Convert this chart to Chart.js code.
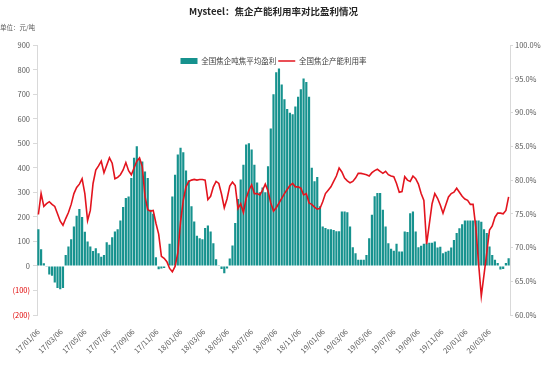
<!DOCTYPE html>
<html><head><meta charset="utf-8">
<script src="https://cdn.jsdelivr.net/npm/chart.js@4.4.1/dist/chart.umd.min.js"></script>
<style>html,body{margin:0;padding:0;background:#fff}#wrap{width:550px;height:370px}</style>
</head><body><div id="wrap"><canvas id="c" width="550" height="370"></canvas></div>
<script>
const chartTitle = 'Mysteel：焦企产能利用率对比盈利情况';
const unitText = '单位：元/吨';
const seriesNames = ['全国焦企吨焦平均盈利', '全国焦企产能利用率'];
const startDate = '2017-01-06';
const tickLabels = ['17/01/06','17/03/06','17/05/06','17/07/06','17/09/06','17/11/06','18/01/06','18/03/06','18/05/06','18/07/06','18/09/06','18/11/06','19/01/06','19/03/06','19/05/06','19/07/06','19/09/06','19/11/06','20/01/06','20/03/06'];

// weekly average profit per tonne of coke (yuan/t)
const profit = [
150,68,11,-3,-35,-40,-68,-90,-95,-90,
45,79,109,161,205,232,200,139,100,79,
61,72,52,38,45,97,86,117,140,150,
185,240,277,283,359,441,488,433,426,385,
359,229,213,35,-13,-10,-8,0,90,283,
372,454,482,464,389,349,243,181,123,113,
109,155,165,140,93,27,3,-12,-30,-10,
30,83,175,273,352,413,495,500,475,413,
340,300,320,300,406,560,700,790,805,740,
680,640,625,618,650,690,720,764,750,690,
400,345,363,243,161,155,150,150,147,141,
141,222,222,219,161,76,52,25,25,25,
45,113,209,284,297,297,229,161,93,70,
62,90,59,59,140,138,215,222,140,76,
82,90,92,95,95,100,75,78,52,58,
62,75,106,134,154,170,185,185,185,185,
185,185,180,150,134,79,45,25,12,-14,
-12,12,31
];

// weekly coke capacity utilization (%)
const utilization = [
74.9,78.0,76.1,76.5,76.8,76.4,76.1,75.0,73.9,73.3,
74.3,75.2,76.4,78.0,78.9,79.4,80.2,78.0,74.0,75.5,
79.5,81.5,82.1,82.8,81.1,82.2,83.3,82.5,80.2,80.4,
80.8,81.5,82.6,81.4,80.8,81.8,82.8,83.3,82.0,77.6,
75.6,75.4,75.5,73.6,72.0,68.7,68.4,67.9,66.9,66.4,
67.2,69.2,73.8,77.0,79.0,79.8,80.0,80.1,80.0,80.1,
80.1,80.0,77.1,77.6,79.0,79.8,79.5,77.9,75.9,77.2,
79.1,79.7,79.2,75.8,76.5,75.2,77.3,78.5,79.3,78.0,
78.0,77.8,78.5,79.4,78.4,76.6,75.4,75.9,76.6,77.3,
78.0,78.6,79.2,79.5,79.0,79.0,78.8,77.8,78.0,76.6,
76.4,76.0,75.7,75.8,76.8,78.0,78.5,79.0,79.8,80.6,
81.8,81.2,80.3,79.9,79.6,79.8,80.3,81.0,81.0,80.9,
80.8,80.6,81.1,81.4,81.6,81.3,81.0,81.3,80.8,80.6,
80.5,79.5,78.2,78.3,80.5,80.0,79.8,80.6,80.2,79.4,
78.0,77.0,70.5,73.5,76.5,78.0,77.3,76.3,75.1,76.3,
77.5,78.0,78.2,78.8,78.2,77.6,77.2,77.0,76.4,76.4,
73.0,67.7,62.8,66.0,69.2,72.6,73.2,74.5,75.1,75.1,
75.0,75.5,77.5
];

const TEAL = '#16928E';
const RED = '#E3141E';
const GREY = '#595959';
const AXIS = '#D9D9D9';
const DAY = 86400000;
const t0 = Date.parse(startDate + 'T00:00:00Z');
// weekly category dates (yy/mm/dd)
const categories = profit.map((_, i) => new Date(t0 + i * 7 * DAY).toISOString().slice(2, 10).replace(/-/g, '/'));
function dayOf(label) {
  const p = label.split('/').map(Number);
  return (Date.UTC(2000 + p[0], p[1] - 1, p[2]) - t0) / DAY;
}
const xs = categories.map(dayOf);
const tickDays = tickLabels.map(dayOf);

Chart.defaults.font.family = '"Noto Sans CJK SC", "Noto Sans", sans-serif';

// place the (horizontal) legend inside the top of the plot area, like the reference
const legendInPlot = {
  id: 'legendInPlot',
  afterLayout(chart) {
    const lg = chart.legend;
    if (!lg) return;
    lg.top = chart.chartArea.top + 10;
    lg.height = 20;
    lg.bottom = lg.top + 20;
  }
};

new Chart(document.getElementById('c'), {
  type: 'bar',
  plugins: [legendInPlot],
  data: {
    datasets: [
      {
        type: 'bar', label: seriesNames[0], yAxisID: 'y', order: 2,
        data: xs.map((x, i) => ({ x: x, y: profit[i] })),
        backgroundColor: TEAL, borderWidth: 0,
        categoryPercentage: 1, barPercentage: 0.8
      },
      {
        type: 'line', label: seriesNames[1], yAxisID: 'y1', order: 1,
        data: xs.map((x, i) => ({ x: x, y: utilization[i] })),
        borderColor: RED, backgroundColor: RED, borderWidth: 1.6,
        pointRadius: 0, tension: 0, fill: false
      }
    ]
  },
  options: {
    responsive: false, animation: false,
    plugins: {
      tooltip: { enabled: false },
      title: {
        display: true, text: chartTitle, color: '#262626', fullSize: false,
        font: { size: 9.5, weight: 'bold' }, padding: { top: 6, bottom: 2 }
      },
      subtitle: {
        display: true, text: unitText, align: 'start', color: GREY,
        font: { size: 6.5 }, padding: { top: 4, bottom: 13 }
      },
      legend: {
        position: 'top', align: 'center', fullSize: false, maxHeight: 1,
        labels: {
          usePointStyle: true, pointStyleWidth: 17, boxHeight: 6, padding: 2,
          color: '#404040', font: { size: 7.5 },
          generateLabels: function (chart) {
            const items = Chart.defaults.plugins.legend.labels.generateLabels(chart);
            items.sort((a, b) => a.datasetIndex - b.datasetIndex);
            items.forEach(it => {
              const ds = chart.data.datasets[it.datasetIndex];
              if (ds.type === 'line') { it.pointStyle = 'line'; it.lineWidth = 1.6; it.strokeStyle = RED; }
              else { it.pointStyle = 'rect'; it.lineWidth = 0; it.fillStyle = TEAL; }
            });
            return items;
          }
        }
      }
    },
    scales: {
      x: {
        type: 'linear', offset: false,
        min: xs[0] - 3.5, max: xs[xs.length - 1] + 3.5,
        afterBuildTicks: s => { s.ticks = tickDays.map(v => ({ value: v })); },
        afterFit: s => { s.height = 55; },
        grid: { display: false, offset: false },
        border: { display: false },
        ticks: {
          autoSkip: false, minRotation: 45, maxRotation: 45, padding: 4,
          color: GREY, font: { size: 7.5 },
          callback: (v, i) => tickLabels[i]
        }
      },
      y: {
        position: 'left', min: -200, max: 900,
        afterFit: s => { s.width = 37; },
        grid: { drawOnChartArea: false, drawTicks: true, tickLength: 4, color: AXIS },
        border: { display: true, color: AXIS },
        ticks: {
          stepSize: 100, padding: 3, font: { size: 7.5 },
          color: c => (c.tick && c.tick.value < 0) ? '#E00000' : GREY,
          callback: v => v < 0 ? '(' + Math.abs(v) + ')' : String(v)
        }
      },
      y1: {
        position: 'right', min: 60, max: 100,
        afterFit: s => { s.width = 40; },
        grid: { drawOnChartArea: false, drawTicks: true, tickLength: 3, color: AXIS },
        border: { display: true, color: AXIS },
        ticks: {
          stepSize: 5, padding: 2, color: GREY, font: { size: 7.5 },
          callback: v => Number(v).toFixed(1) + '%'
        }
      }
    }
  }
});
</script>
</body></html>
